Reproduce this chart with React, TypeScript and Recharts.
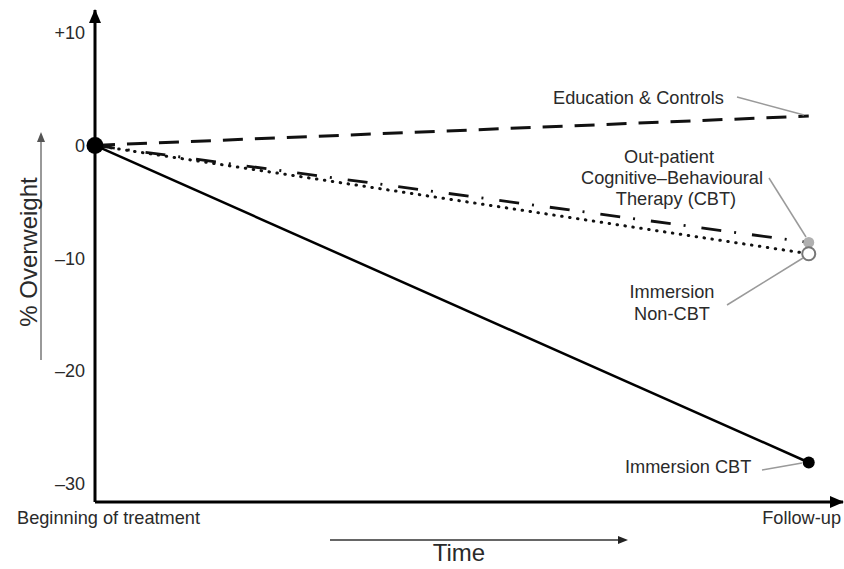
import React from "react"
import { LineChart, Line, XAxis, YAxis } from "recharts"

// time points and % overweight change per group
const timePoints = [0, 1]
const timeLabels = ["Beginning of treatment", "Follow-up"]
const educationControls = [0, 2.6]
const outpatientCBT = [0, -8.6]
const immersionNonCBT = [0, -9.6]
const immersionCBT = [0, -28.1]
const yTicks = [10, 0, -10, -20, -30]
const yTickLabels = ["+10", "0", "\u201310", "\u201320", "\u201330"]

const data = timePoints.map((t, i) => ({
  t,
  label: timeLabels[i],
  edu: educationControls[i],
  ocbt: outpatientCBT[i],
  noncbt: immersionNonCBT[i],
  icbt: immersionCBT[i],
}))

const FONT = "'Liberation Sans', Arial, Helvetica, sans-serif"
const TXT = "#2a2a2a"
const LEAD = "#9a9a9a"
const FS = 18.2

const tickFmt = (v: number) => yTickLabels[yTicks.indexOf(v)] ?? String(v)

const CbtDot = (props: any) => {
  const { cx, cy, index } = props
  return <circle key={index} cx={cx} cy={cy} r={index === 0 ? 8.5 : 6} fill="#000" />
}
const OpenDot = (props: any) => {
  const { cx, cy, index } = props
  if (index === 0) return <g key={index} />
  return <circle key={index} cx={cx} cy={cy} r={6.5} fill="#fff" stroke="#777" strokeWidth={2} />
}
const GreyDot = (props: any) => {
  const { cx, cy, index } = props
  if (index === 0) return <g key={index} />
  return <circle key={index} cx={cx} cy={cy} r={5.5} fill="#b0b0b0" />
}

function Overlay() {
  return (
    <svg width={844} height={569} style={{ position: "absolute", left: 0, top: 0, pointerEvents: "none" }}>
      {/* axis arrowheads */}
      <polygon points="95,9 89,23 101,23" fill="#000" />
      <polygon points="844,502 830,496 830,508" fill="#000" />
      {/* y label with arrow */}
      <line x1={41} y1={360} x2={41} y2={140} stroke="#777" strokeWidth={1.5} />
      <polygon points="41,132 37,142 45,142" fill="#555" />
      <text x={28} y={252} transform="rotate(-90 28 252)" textAnchor="middle" dominantBaseline="central"
        fontFamily={FONT} fontSize={24} fill={TXT}>% Overweight</text>
      {/* x labels */}
      <text x={17} y={524} fontFamily={FONT} fontSize={FS} fill={TXT}>{timeLabels[0]}</text>
      <text x={841} y={524} textAnchor="end" fontFamily={FONT} fontSize={FS} fill={TXT}>{timeLabels[1]}</text>
      <line x1={330} y1={540} x2={620} y2={540} stroke="#333" strokeWidth={1.5} />
      <polygon points="628,540 618,536 618,544" fill="#222" />
      <text x={459} y={561} textAnchor="middle" fontFamily={FONT} fontSize={24} fill={TXT}>Time</text>
      {/* annotations */}
      <text x={553} y={104} fontFamily={FONT} fontSize={FS} fill={TXT}>Education &amp; Controls</text>
      <line x1={737} y1={97} x2={804} y2={115} stroke={LEAD} strokeWidth={1.5} />
      <g fontFamily={FONT} fontSize={FS} fill={TXT} textAnchor="middle">
        <text x={669} y={163}>Out-patient</text>
        <text x={672} y={184}>Cognitive–Behavioural</text>
        <text x={676} y={205}>Therapy (CBT)</text>
        <text x={672} y={298}>Immersion</text>
        <text x={672} y={320}>Non-CBT</text>
      </g>
      <line x1={769} y1={178} x2={806} y2={237} stroke={LEAD} strokeWidth={1.5} />
      <line x1={727} y1={305} x2={803} y2={258} stroke={LEAD} strokeWidth={1.5} />
      <text x={625} y={473} fontFamily={FONT} fontSize={FS} fill={TXT}>Immersion CBT</text>
      <line x1={762} y1={470} x2={802} y2={463} stroke={LEAD} strokeWidth={1.5} />
    </svg>
  )
}

export default function App() {
  return (
    <div style={{ position: "absolute", left: 0, top: 0, width: 844, height: 569, background: "#fff" }}>
      <LineChart width={844} height={569} data={data} margin={{ top: 10, right: 1, left: 35, bottom: 66 }}>
        <XAxis dataKey="t" type="number" domain={[0, 1.048]} height={1} tick={false}
          tickLine={false} axisLine={{ stroke: "#000", strokeWidth: 3 }} />
        <YAxis type="number" domain={[-31.6, 12]} width={60} ticks={yTicks}
          tickFormatter={tickFmt} tickLine={false} tickSize={0} tickMargin={10}
          axisLine={{ stroke: "#000", strokeWidth: 3 }}
          tick={{ fill: TXT, fontSize: 18, fontFamily: FONT }} />
        <Line dataKey="edu" stroke="#111" strokeWidth={3} strokeDasharray="20 12" dot={false} isAnimationActive={false} />
        <Line dataKey="ocbt" stroke="#111" strokeWidth={2.8} strokeDasharray="20 13 2 16" dot={<GreyDot />} isAnimationActive={false} />
        <Line dataKey="noncbt" stroke="#111" strokeWidth={3} strokeLinecap="round" strokeDasharray="0.5 7.5" dot={<OpenDot />} isAnimationActive={false} />
        <Line dataKey="icbt" stroke="#000" strokeWidth={2.5} dot={<CbtDot />} isAnimationActive={false} />
      </LineChart>
      <Overlay />
    </div>
  )
}
